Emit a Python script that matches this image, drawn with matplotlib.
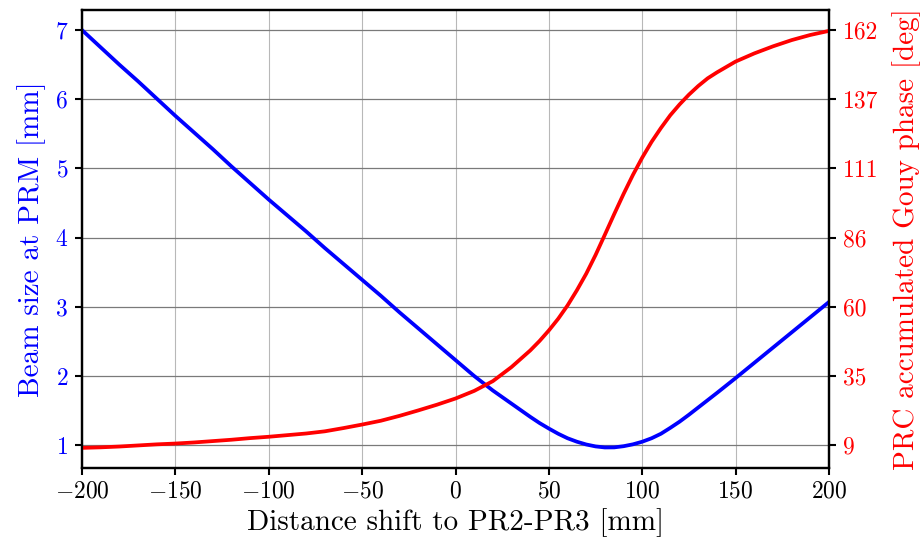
import matplotlib
matplotlib.use("Agg")
import matplotlib.pyplot as plt

plt.rcParams['font.family'] = 'serif'
plt.rcParams['font.serif'] = ['cmr10']
plt.rcParams['mathtext.fontset'] = 'cm'
plt.rcParams['axes.formatter.use_mathtext'] = True
plt.rcParams['axes.unicode_minus'] = True

shift_mm = [-200, -190, -180, -170, -160, -150, -140, -130, -120, -110,
            -100, -90, -80, -70, -60, -50, -40, -30, -20, -10,
            0, 10, 20, 30, 40, 45, 50, 55, 60, 65, 70, 75, 80, 85, 90, 95,
            100, 105, 110, 115, 120, 125, 130, 135, 140, 150, 160, 170, 180, 190, 200]

beam_size_mm = [7.00, 6.75, 6.50, 6.26, 6.01, 5.76, 5.52, 5.28, 5.03, 4.79,
                4.55, 4.32, 4.09, 3.85, 3.62, 3.39, 3.16, 2.92, 2.69, 2.46,
                2.23, 2.00, 1.79, 1.60, 1.41, 1.32, 1.24, 1.165, 1.10, 1.05, 1.01, 0.982, 0.967, 0.968, 0.985, 1.012,
                1.05, 1.10, 1.165, 1.25, 1.34, 1.44, 1.545, 1.65, 1.755, 1.97, 2.19, 2.41, 2.63, 2.85, 3.07]

gouy_deg = [8.0, 8.2, 8.5, 8.9, 9.3, 9.6, 10.0, 10.5, 11.0, 11.6,
            12.1, 12.7, 13.3, 14.1, 15.3, 16.6, 18.0, 19.8, 21.8, 23.9,
            26.2, 29.0, 32.6, 37.8, 43.9, 47.4, 51.3, 55.6, 60.5, 66.1, 72.2, 79.1, 86.6, 94.2, 101.6, 108.6,
            115.0, 120.8, 125.9, 130.6, 134.6, 138.2, 141.4, 144.2, 146.4, 150.4, 153.4, 156.0, 158.3, 160.2, 161.7]

left_ticks = [1, 2, 3, 4, 5, 6, 7]
right_ticks = [9, 34.5, 60, 85.5, 111, 136.5, 162]
right_tick_labels = ['9', '35', '60', '86', '111', '137', '162']
x_ticks = [-200, -150, -100, -50, 0, 50, 100, 150, 200]

fig = plt.figure(figsize=(9.24, 5.5), dpi=100)
ax1 = fig.add_axes([82 / 924, 82 / 550, 747 / 924, 458 / 550])
ax2 = ax1.twinx()

ax1.plot(shift_mm, beam_size_mm, color='blue', lw=2.7)
ax2.plot(shift_mm, gouy_deg, color='red', lw=2.7)

ax1.set_xlim(-200, 200)
ax1.set_ylim(0.67, 7.29)
ax2.set_ylim(9 + (0.67 - 1) * 25.5, 9 + (7.29 - 1) * 25.5)

ax1.set_xticks(x_ticks)
ax1.set_yticks(left_ticks)
ax2.set_yticks(right_ticks)
ax2.set_yticklabels(right_tick_labels)

ax1.grid(True, axis='x', color='#b8b8b8', lw=0.8)
ax1.grid(True, axis='y', color='#7a7a7a', lw=0.9)

ax1.tick_params(axis='x', labelsize=17, direction='out', length=5, width=1.5, pad=4)
ax1.tick_params(axis='y', labelsize=17, labelcolor='blue', color='black', direction='out', length=5, width=1.5, pad=5)
ax2.tick_params(axis='y', labelsize=17, labelcolor='red', color='black', direction='out', length=5, width=1.5, pad=5)

for ax in (ax1, ax2):
    for s in ax.spines.values():
        s.set_linewidth(1.6)
        s.set_color('black')

ax1.set_xlabel('Distance shift to PR2-PR3 [mm]', fontsize=21, labelpad=4)
ax1.set_ylabel('Beam size at PRM [mm]', fontsize=21, color='blue', labelpad=6)
ax2.set_ylabel('PRC accumulated Gouy phase [deg]', fontsize=21, color='red', labelpad=10)

fig.savefig('out.png', dpi=100)
